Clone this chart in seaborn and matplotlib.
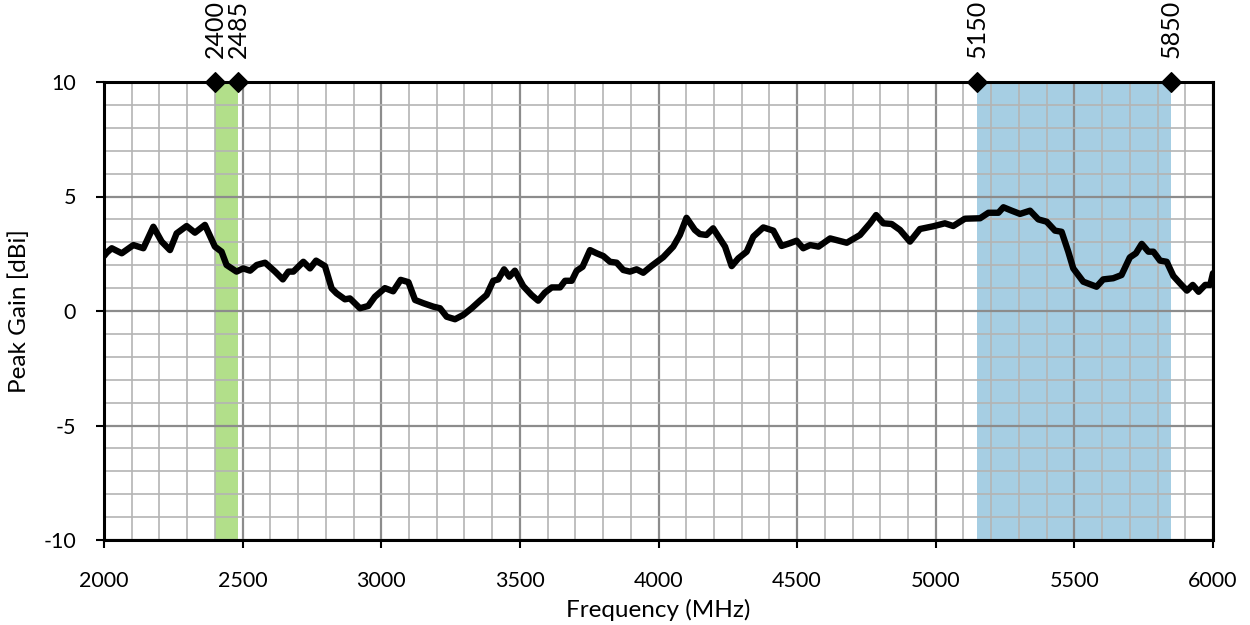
import numpy as np
import pandas as pd
import matplotlib
matplotlib.use("Agg")
import matplotlib.pyplot as plt
from matplotlib.ticker import MultipleLocator
import seaborn as sns

freq_mhz = [2000, 2010, 2028, 2064, 2106, 2142, 2178, 2208, 2238, 2262, 2298, 2328, 2364, 2400,
            2424, 2442, 2478, 2502, 2527, 2551, 2581, 2617, 2645, 2665, 2683, 2719, 2743, 2765,
            2797, 2821, 2839, 2869, 2887, 2923, 2953, 2977, 3013, 3043, 3070, 3098, 3122, 3152,
            3188, 3212, 3236, 3266, 3296, 3326, 3356, 3380, 3404, 3422, 3443, 3462, 3482, 3512,
            3542, 3566, 3590, 3615, 3645, 3663, 3687, 3705, 3726, 3753, 3777, 3801, 3825, 3849,
            3873, 3897, 3921, 3945, 3975, 4017, 4053, 4077, 4101, 4131, 4149, 4173, 4197, 4240,
            4264, 4288, 4318, 4342, 4378, 4414, 4444, 4474, 4498, 4522, 4547, 4577, 4619, 4679,
            4727, 4763, 4785, 4811, 4841, 4871, 4907, 4943, 4991, 5033, 5063, 5105, 5160, 5190,
            5226, 5244, 5274, 5304, 5340, 5370, 5400, 5430, 5454, 5478, 5496, 5532, 5580, 5604,
            5640, 5670, 5700, 5722, 5743, 5767, 5785, 5809, 5833, 5857, 5881, 5906, 5927, 5948,
            5972, 5990, 6000]
peak_gain_dbi = [2.40, 2.55, 2.74, 2.52, 2.88, 2.74, 3.68, 3.03, 2.66, 3.39, 3.71, 3.42, 3.76, 2.81,
                 2.59, 2.01, 1.72, 1.86, 1.76, 2.01, 2.11, 1.72, 1.38, 1.72, 1.72, 2.15, 1.86, 2.20,
                 1.96, 0.99, 0.77, 0.51, 0.55, 0.12, 0.22, 0.62, 1.00, 0.86, 1.36, 1.26, 0.48, 0.34,
                 0.19, 0.12, -0.25, -0.36, -0.17, 0.12, 0.45, 0.70, 1.32, 1.38, 1.82, 1.50, 1.76, 1.09,
                 0.70, 0.45, 0.80, 1.03, 1.03, 1.32, 1.32, 1.76, 1.93, 2.66, 2.52, 2.40, 2.15, 2.11,
                 1.79, 1.72, 1.82, 1.67, 1.97, 2.35, 2.81, 3.32, 4.07, 3.54, 3.36, 3.32, 3.61, 2.81,
                 1.96, 2.30, 2.59, 3.25, 3.65, 3.51, 2.84, 2.96, 3.07, 2.74, 2.88, 2.81, 3.17, 2.98,
                 3.32, 3.83, 4.19, 3.83, 3.80, 3.54, 3.03, 3.58, 3.70, 3.83, 3.71, 4.03, 4.05, 4.29,
                 4.29, 4.53, 4.38, 4.24, 4.38, 4.00, 3.90, 3.51, 3.46, 2.59, 1.86, 1.28, 1.06, 1.38,
                 1.43, 1.57, 2.34, 2.52, 2.93, 2.59, 2.59, 2.20, 2.15, 1.53, 1.21, 0.89, 1.14, 0.84,
                 1.14, 1.14, 1.65]

band_edges = [2400, 2485, 5150, 5850]
band_labels = ["2400", "2485", "5150", "5850"]
x_ticks = [2000, 2500, 3000, 3500, 4000, 4500, 5000, 5500, 6000]
y_ticks = [-10, -5, 0, 5, 10]

sns.set_theme(style="white")
plt.rcParams['font.family'] = ['Lato', 'DejaVu Sans']
plt.rcParams['axes.unicode_minus'] = False
plt.rcParams['text.color'] = 'black'
plt.rcParams['axes.labelcolor'] = 'black'
plt.rcParams['xtick.color'] = 'black'
plt.rcParams['ytick.color'] = 'black'

df = pd.DataFrame({"freq": freq_mhz, "gain": peak_gain_dbi})

fig = plt.figure(figsize=(12.5, 6.25), dpi=100)
ax = fig.add_axes([0.0832, 0.136, 0.8872, 0.7328])

pal = sns.color_palette("Paired")
ax.axvspan(band_edges[0], band_edges[1], color=pal[2], lw=0, zorder=1)
ax.axvspan(band_edges[2], band_edges[3], color=pal[0], lw=0, zorder=1)

sns.lineplot(data=df, x="freq", y="gain", ax=ax, color="black", linewidth=4.6,
             solid_joinstyle='round', solid_capstyle='round', zorder=3)

ax.set_xlim(2000, 6000)
ax.set_ylim(-10, 10)
ax.set_xticks(x_ticks)
ax.set_yticks(y_ticks)
ax.xaxis.set_minor_locator(MultipleLocator(100))
ax.yaxis.set_minor_locator(MultipleLocator(1))
ax.set_axisbelow('line')
ax.grid(which='minor', color='#b4b4b4', lw=1.2)
ax.grid(which='major', color='#8c8c8c', lw=1.6)
ax.tick_params(which='major', direction='out', length=6, width=1.5, color='black',
               labelsize=15.5, bottom=True, left=True)
ax.tick_params(which='minor', length=0)
ax.tick_params(axis='x', pad=16)
ax.tick_params(axis='y', pad=14)
for s in ax.spines.values():
    s.set_color('black')
    s.set_linewidth(2.2)

ax.set_xlabel("Frequency (MHz)", fontsize=17.5, labelpad=6)
ax.set_ylabel("Peak Gain [dBi]", fontsize=17.5, labelpad=10)

ax.scatter(band_edges, [10] * len(band_edges), marker='D', s=100, color='black',
           zorder=5, clip_on=False)
sec = ax.secondary_xaxis('top')
sec.set_xticks(band_edges)
sec.set_xticklabels(band_labels, rotation=90, fontsize=18)
sec.tick_params(length=0, pad=17)
sec.spines['top'].set_visible(False)

fig.savefig("out.png", dpi=100)
